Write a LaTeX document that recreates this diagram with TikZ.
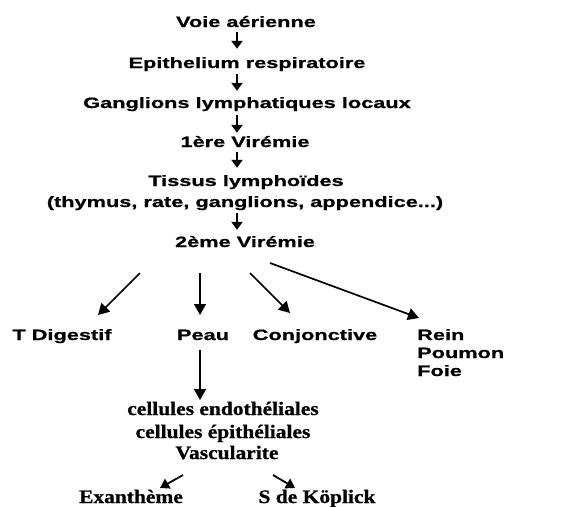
\documentclass[tikz,border=0pt]{standalone}
\usepackage{fontspec}
\usetikzlibrary{arrows.meta}
\newfontfamily\arialf[FakeStretch=1.45,FakeBold=0.8]{Liberation Sans}
\newfontfamily\timesf[FakeStretch=1.13,FakeBold=0.8]{Liberation Serif}
\begin{document}
\begin{tikzpicture}[x=1pt,y=-1pt,
  lab/.style={font=\arialf\bfseries\fontsize{15}{18}\selectfont, inner sep=0pt, anchor=base, text height=11pt, text depth=4pt},
  llab/.style={lab, anchor=base west},
  tlab/.style={font=\timesf\bfseries\fontsize{19}{21}\selectfont, inner sep=0pt, anchor=base},
  arr/.style={-{Triangle[length=8pt,width=11pt]}, line width=2.2pt},
  arrb/.style={-{Triangle[length=11pt,width=12pt]}, line width=1.7pt},
  arrc/.style={-{Triangle[length=9pt,width=11pt]}, line width=1.8pt}]
\useasboundingbox (0,0) rectangle (572,506);
\fill[white] (0,0) rectangle (572,506);
\coordinate (ax) at (237,0);
% top column
\node[lab] (voie)   at (246,27)  {Voie aérienne};
\node[lab] (epi)    at (247,68)  {Epithelium respiratoire};
\node[lab] (gang)   at (247,108) {Ganglions lymphatiques locaux};
\node[lab] (vir1)   at (245,147) {1ère Virémie};
\node[lab] (tissus) at (246,186) {Tissus lymphoïdes};
\node[lab] (thym)   at (245,207) {(thymus, rate, ganglions, appendice...)};
\node[lab] (vir2)   at (245,247) {2ème Virémie};
\draw[arr,shorten <=1pt,shorten >=8pt] (voie.south -| ax) -- (epi.north -| ax);
\draw[arr,shorten <=2pt,shorten >=6pt] (epi.south -| ax) -- (gang.north -| ax);
\draw[arr,shorten <=3pt,shorten >=3pt] (gang.south -| ax) -- (vir1.north -| ax);
\draw[arr,shorten <=1pt,shorten >=7pt] (vir1.south -| ax) -- (tissus.north -| ax);
\draw[arr,shorten <=2pt,shorten >=6pt] (thym.south -| ax) -- (vir2.north -| ax);
% second row
\node[lab]  (tdig)   at (62,340)  {T Digestif};
\node[lab]  (peau)   at (203,340) {Peau};
\node[lab]  (conj)   at (315,340) {Conjonctive};
\node[llab] (rein)   at (417,340) {Rein};
\node[llab] (poumon) at (417,358) {Poumon};
\node[llab] (foie)   at (417,376) {Foie};
\coordinate (s1) at (140,273);
\coordinate (s2) at (200,273);
\coordinate (s3) at (250,273);
\coordinate (s4) at (270,263);
\coordinate (e1) at (98,315);
\coordinate (e2) at (200,315);
\coordinate (e3) at (290,313);
\coordinate (e4) at (419,318);
\draw[arrb] (s1) -- (e1);
\draw[arrb] (s2) -- (e2);
\draw[arrb] (s3) -- (e3);
\draw[arrb] (s4) -- (e4);
% lower part
\node[tlab] (cell1) at (223,415) {cellules endothéliales};
\node[tlab] (cell2) at (223,438) {cellules épithéliales};
\node[tlab] (vasc)  at (227,459) {Vascularite};
\node[tlab] (exan)  at (131,503) {Exanthème};
\node[tlab] (kop)   at (317,503) {S de Köplick};
\coordinate (p1) at (200,350);
\coordinate (p2) at (200,400);
\draw[arrb] (p1) -- (p2);
\coordinate (v1) at (183,475);
\coordinate (v2) at (160,488);
\coordinate (v3) at (273,475);
\coordinate (v4) at (295,488);
\draw[arrc] (v1) -- (v2);
\draw[arrc] (v3) -- (v4);
\end{tikzpicture}
\end{document}
